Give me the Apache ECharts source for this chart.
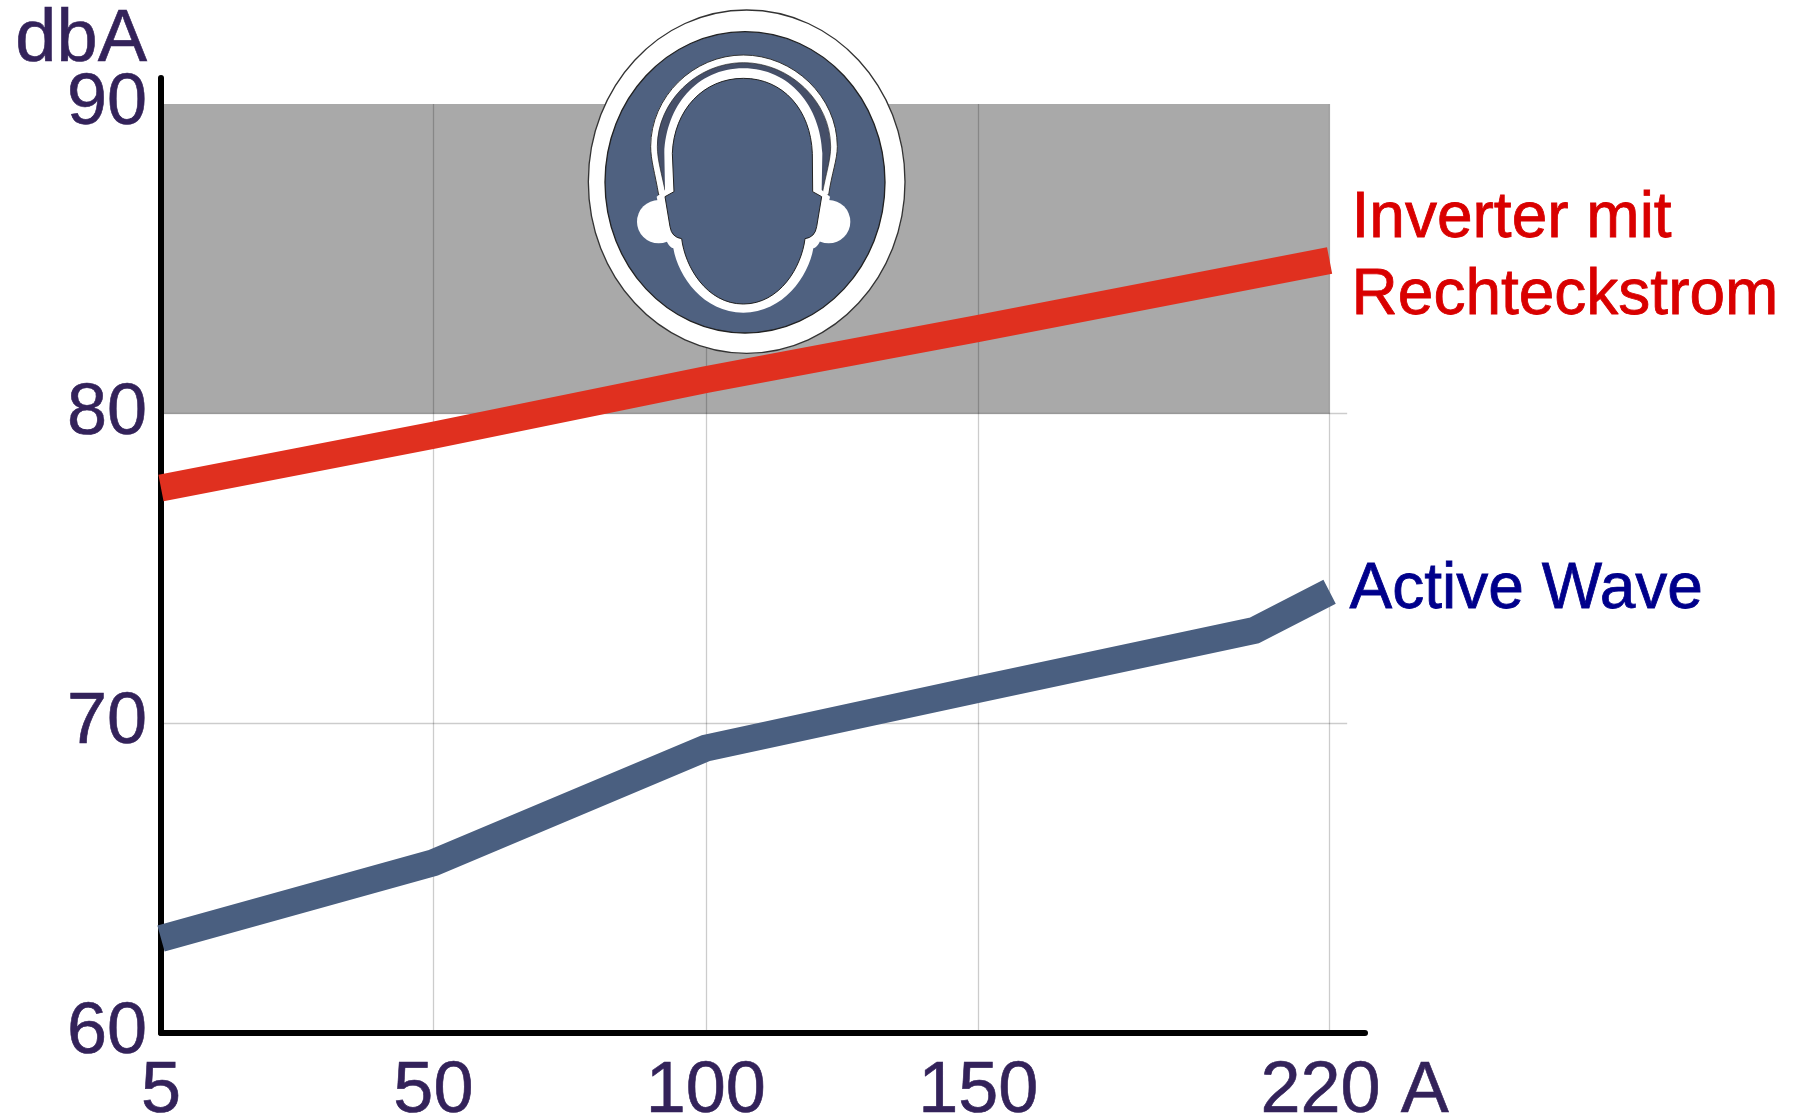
<!DOCTYPE html>
<html><head><meta charset="utf-8">
<style>html,body{margin:0;padding:0;background:#fff;overflow:hidden}#c{width:1795px;height:1120px}</style>
<script src="https://cdn.jsdelivr.net/npm/echarts@6/dist/echarts.min.js"></script>
</head><body><div id="c"></div>
<script>
// Data
const tickAmps = [5, 50, 100, 150, 220];
const tickSlots = [0, 1, 2, 3, 4.29];      // the printed axis is not linear in amps
const yTicks = [60, 70, 80, 90];
const inverterAmps = [5, 50, 100, 150, 220];
const inverterDb = [77.6, 79.3, 81.1, 82.75, 84.95];
const activeAmps = [5, 50, 100, 150, 205, 220];
const activeDb = [63.05, 65.5, 69.2, 71.1, 73.0, 74.25];
const bandDb = [80, 90];
const hGridDb = [70, 80];
const vGridAmps = [50, 100, 150, 220];
const hGridEndAmp = 223.5;

function slot(a) {
  let i = 0;
  while (i < tickAmps.length - 2 && a > tickAmps[i + 1]) i++;
  return tickSlots[i] + (a - tickAmps[i]) / (tickAmps[i + 1] - tickAmps[i]) * (tickSlots[i + 1] - tickSlots[i]);
}
const TXT = '#33225a', FONT = '"Liberation Sans", Arial, sans-serif';
const ICON = '#4f6180';

// Ear-protection pictogram outlines
const pictogram = {
  bandOuter: 'M296 585 C285 520 272 480 272 440 C272 290 400 165 550 165 C700 165 832 290 832 440 C832 480 815 520 806 585 Z',
  bandDark: 'M318 585 C305 520 292 480 292 440 C292 305 410 188 550 188 C690 188 812 305 812 440 C812 480 798 520 786 585 Z',
  headRing: 'M550 205 C690 205 782 320 787 460 L785 570 L810 590 L790 690 Q780 740 760 745 C745 830 670 938 550 938 C430 938 355 830 340 745 Q320 740 310 690 L290 590 L315 570 L313 460 C318 320 410 205 550 205 Z',
  head: 'M550 235 C670 235 752 330 757 460 L758 575 L785 590 L770 680 Q765 712 735 716 C725 800 660 912 550 912 C440 912 375 800 365 716 Q335 712 330 680 L315 590 L342 575 L337 460 C342 330 430 235 550 235 Z'
};
Object.keys(pictogram).forEach(k => echarts.graphic.registerShape('pic_' + k, echarts.graphic.extendPath(pictogram[k], {})));

const shape = (type, s, style, z) => ({ type, shape: s || {}, style, z: 100 + z, silent: true });

const icon = {
  type: 'group', x: 560, y: 0, scaleX: 1 / 3, scaleY: 1 / 3, silent: true,
  children: [
    shape('ellipse', { cx: 560, cy: 545, rx: 475, ry: 515 }, { fill: '#fff', stroke: '#333', lineWidth: 4 }, 0),
    shape('ellipse', { cx: 555, cy: 547, rx: 420, ry: 452 }, { fill: ICON, stroke: '#222', lineWidth: 4 }, 1),
    shape('pic_bandOuter', null, { fill: '#fff', stroke: '#333', lineWidth: 3 }, 2),
    shape('pic_bandDark', null, { fill: '#454f68', stroke: '#222', lineWidth: 2 }, 3),
    shape('circle', { cx: 296, cy: 665, r: 65 }, { fill: '#fff' }, 4),
    shape('circle', { cx: 806, cy: 665, r: 65 }, { fill: '#fff' }, 4),
    shape('pic_headRing', null, { fill: '#fff' }, 5),
    shape('pic_head', null, { fill: ICON, stroke: '#222', lineWidth: 3 }, 6)
  ]
};

const lineSeries = (name, amps, vals, color, labelColor, text, off) => ({
  type: 'line', name, z: 6, clip: false, showSymbol: false, symbol: 'none', silent: true,
  data: amps.map((a, i) => [slot(a), vals[i]]),
  lineStyle: { color, width: 27, cap: 'butt', join: 'miter' },
  endLabel: { show: true, formatter: text, color: labelColor, textBorderColor: labelColor, textBorderWidth: 0.8, fontFamily: FONT, fontSize: 64, lineHeight: 77, align: 'left', offset: off }
});

const chart = echarts.init(document.getElementById('c'), null, { renderer: 'canvas' });
chart.setOption({
  animation: false,
  backgroundColor: '#fff',
  grid: { left: 161, right: 430, top: 78, bottom: 87, outerBoundsMode: 'none' },
  xAxis: {
    type: 'value', min: 0, max: 4.42, z: 5,
    splitLine: { show: false }, axisTick: { show: false },
    axisLine: { onZero: false, lineStyle: { color: '#000', width: 6 } },
    axisLabel: {
      customValues: tickSlots, margin: 23, color: TXT, textBorderColor: TXT, textBorderWidth: 0.6, fontFamily: FONT, fontSize: 72,
      formatter: v => {
        const a = tickAmps[tickSlots.indexOf(v)];
        return a === 220 ? '{last|220 A}' : String(a);
      },
      rich: { last: { color: TXT, textBorderColor: TXT, textBorderWidth: 0.6, fontFamily: FONT, fontSize: 72, padding: [0, 0, 0, 50] } }
    }
  },
  yAxis: {
    type: 'value', min: 60, max: 90.84, z: 5,
    name: 'dbA', nameLocation: 'end', nameGap: 37, nameMoveOverlap: false,
    nameTextStyle: { color: TXT, textBorderColor: TXT, textBorderWidth: 0.6, fontFamily: FONT, fontSize: 74, align: 'right', verticalAlign: 'middle', padding: [0, 14, 0, 0] },
    splitLine: { show: false }, axisTick: { show: false },
    axisLine: { onZero: false, lineStyle: { color: '#000', width: 6 } },
    axisLabel: { customValues: yTicks, margin: 14, color: TXT, textBorderColor: TXT, textBorderWidth: 0.6, fontFamily: FONT, fontSize: 72 }
  },
  series: [
    { type: 'line', name: 'Band', z: 1, silent: true, data: [], symbol: 'none',
      markArea: { silent: true, itemStyle: { color: '#a9a9a9' }, label: { show: false },
        data: [[{ coord: [slot(tickAmps[0]), bandDb[0]] }, { coord: [slot(220), bandDb[1]] }]] } },
    { type: 'line', name: 'Grid', z: 2, silent: true, data: [], symbol: 'none',
      markLine: { silent: true, symbol: 'none', animation: false, label: { show: false },
        lineStyle: { color: 'rgba(0,0,0,0.2)', width: 1.3, type: 'solid' },
        data: hGridDb.map(v => [{ coord: [slot(5), v] }, { coord: [slot(hGridEndAmp), v] }])
          .concat(vGridAmps.map(a => [{ coord: [slot(a), yTicks[0]] }, { coord: [slot(a), yTicks[3]] }])) } },
    lineSeries('Inverter mit Rechteckstrom', inverterAmps, inverterDb, '#e0301f', '#d90000', 'Inverter mit\nRechteckstrom', [14, -3]),
    lineSeries('Active Wave', activeAmps, activeDb, '#4a5f80', '#00008b', 'Active Wave', [12, -1])
  ],
  graphic: { elements: [icon] }
});
</script></body></html>
